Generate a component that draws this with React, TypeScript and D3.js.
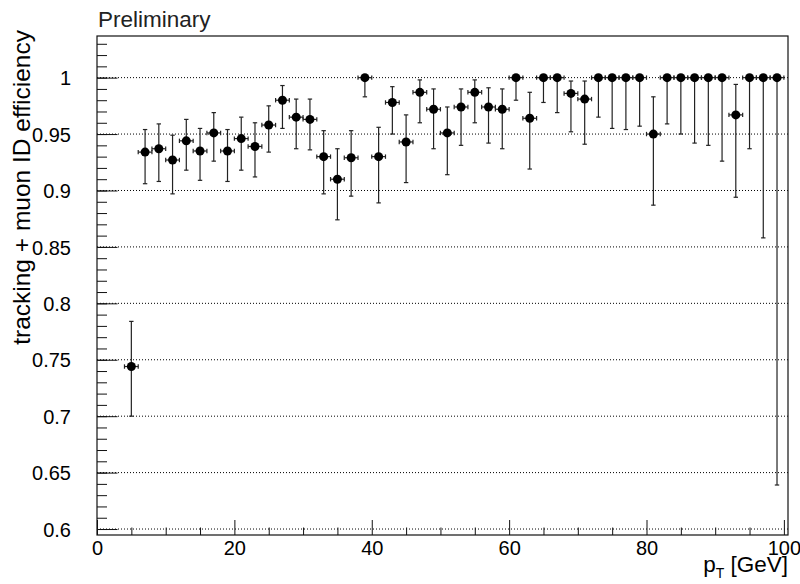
import React, { useEffect, useRef } from 'react';
import * as d3 from 'd3';

// bin centres of pT (GeV), bins of 2 GeV
const ptCenters = [
  5, 7, 9, 11, 13, 15, 17, 19, 21, 23, 25, 27, 29, 31, 33, 35,
  37, 39, 41, 43, 45, 47, 49, 51, 53, 55, 57, 59, 61, 63, 65, 67,
  69, 71, 73, 75, 77, 79, 81, 83, 85, 87, 89, 91, 93, 95, 97, 99,
];
const ptHalfWidth = [1];

const efficiency = [
  0.744, 0.934, 0.937, 0.927, 0.944, 0.935, 0.951, 0.935, 0.946, 0.939, 0.958, 0.980, 0.965, 0.963, 0.930, 0.910,
  0.929, 1.0, 0.930, 0.978, 0.943, 0.987, 0.972, 0.951, 0.974, 0.987, 0.974, 0.972, 1.0, 0.964, 1.0, 1.0,
  0.986, 0.981, 1.0, 1.0, 1.0, 1.0, 0.950, 1.0, 1.0, 1.0, 1.0, 1.0, 0.967, 1.0, 1.0, 1.0,
];
const effLow = [
  0.700, 0.906, 0.908, 0.897, 0.918, 0.909, 0.926, 0.908, 0.918, 0.912, 0.934, 0.955, 0.937, 0.936, 0.897, 0.874,
  0.895, 0.983, 0.889, 0.950, 0.907, 0.960, 0.937, 0.914, 0.940, 0.960, 0.942, 0.937, 0.980, 0.919, 0.978, 0.969,
  0.952, 0.941, 0.965, 0.955, 0.954, 0.957, 0.887, 0.959, 0.950, 0.942, 0.940, 0.926, 0.894, 0.937, 0.858, 0.639,
];
const effHigh = [
  0.784, 0.954, 0.959, 0.949, 0.963, 0.955, 0.969, 0.954, 0.965, 0.960, 0.975, 0.993, 0.981, 0.981, 0.953, 0.937,
  0.953, 1.0, 0.956, 0.992, 0.967, 0.998, 0.990, 0.974, 0.990, 0.998, 0.991, 0.990, 1.0, 0.987, 1.0, 1.0,
  0.997, 0.997, 1.0, 1.0, 1.0, 1.0, 0.983, 1.0, 1.0, 1.0, 1.0, 1.0, 0.994, 1.0, 1.0, 1.0,
];

const yTickLabels = ['0.6', '0.65', '0.7', '0.75', '0.8', '0.85', '0.9', '0.95', '1'];
const xTickLabels = ['0', '20', '40', '60', '80', '100'];

const WIDTH = 800;
const HEIGHT = 584;
const FONT = '"Liberation Sans", Arial, Helvetica, sans-serif';

function EfficiencyPlot() {
  const svgRef = useRef<SVGSVGElement>(null);

  useEffect(() => {
    const svg = d3.select(svgRef.current);
    svg.selectAll('*').remove();

    const frame = { left: 97, right: 788, top: 36, bottom: 535 };
    const x = d3.scaleLinear().domain([0, 100.6]).range([frame.left, frame.right]);
    const y = d3.scaleLinear().domain([0.5947, 1.0369]).range([frame.bottom, frame.top]);

    svg.append('rect')
      .attr('width', WIDTH)
      .attr('height', HEIGHT)
      .attr('fill', '#fff');

    // horizontal dotted grid at major y ticks
    const yMajor = yTickLabels.map(Number);
    svg.append('g')
      .selectAll('line')
      .data(yMajor)
      .enter()
      .append('line')
      .attr('x1', frame.left)
      .attr('x2', frame.right)
      .attr('y1', (d) => y(d))
      .attr('y2', (d) => y(d))
      .attr('stroke', '#000')
      .attr('stroke-width', 1)
      .attr('stroke-dasharray', '1 2');

    // frame
    svg.append('rect')
      .attr('x', frame.left)
      .attr('y', frame.top)
      .attr('width', frame.right - frame.left)
      .attr('height', frame.bottom - frame.top)
      .attr('fill', 'none')
      .attr('stroke', '#111')
      .attr('stroke-width', 1.2);

    // y axis (ROOT style: ticks inside, 0.01 minor ticks)
    const yMinor = d3.range(60, 104).map((v) => v / 100).filter((v) => v <= y.domain()[1]);
    const yAxis = d3.axisRight(y)
      .tickValues(yMinor)
      .tickSize(10)
      .tickFormat(() => '');
    svg.append('g')
      .attr('transform', `translate(${frame.left},0)`)
      .call(yAxis)
      .call((g) => g.select('.domain').remove());
    const yAxisMajor = d3.axisLeft(y)
      .tickValues(yMajor)
      .tickSize(-20.5)
      .tickPadding(26)
      .tickFormat((d, i) => yTickLabels[i]);
    svg.append('g')
      .attr('transform', `translate(${frame.left},0)`)
      .call(yAxisMajor)
      .call((g) => g.select('.domain').remove())
      .call((g) => g.selectAll('text')
        .attr('font-family', FONT)
        .attr('font-size', 20)
        .attr('fill', '#000')
        .attr('dy', '0.36em'));

    // x axis
    const xMajor = xTickLabels.map(Number);
    const xMinor = d3.range(5, 100, 5).filter((v) => v % 20 !== 0);
    svg.append('g')
      .attr('transform', `translate(0,${frame.bottom})`)
      .call(d3.axisTop(x).tickValues(xMinor).tickSize(7.5).tickFormat(() => ''))
      .call((g) => g.select('.domain').remove());
    svg.append('g')
      .attr('transform', `translate(0,${frame.bottom})`)
      .call(d3.axisBottom(x).tickValues(xMajor).tickSize(-15).tickPadding(6)
        .tickFormat((d, i) => xTickLabels[i]))
      .call((g) => g.select('.domain').remove())
      .call((g) => g.selectAll('text')
        .attr('font-family', FONT)
        .attr('font-size', 20)
        .attr('fill', '#000'));
    svg.selectAll('.tick line').attr('stroke', '#111');

    // error bars and markers
    const pts = ptCenters.map((pt, i) => ({
      pt,
      eff: efficiency[i],
      lo: effLow[i],
      hi: effHigh[i],
    }));
    const g = svg.append('g').attr('stroke', '#222').attr('stroke-width', 1.2);
    const cap = 2.2;
    pts.forEach((p) => {
      const cx = x(p.pt);
      const cy = y(p.eff);
      const xl = x(p.pt - ptHalfWidth[0]);
      const xr = x(p.pt + ptHalfWidth[0]);
      g.append('line').attr('x1', xl).attr('x2', xr).attr('y1', cy).attr('y2', cy);
      g.append('line').attr('x1', xl).attr('x2', xl).attr('y1', cy - cap).attr('y2', cy + cap);
      g.append('line').attr('x1', xr).attr('x2', xr).attr('y1', cy - cap).attr('y2', cy + cap);
      if (p.hi > p.eff) {
        g.append('line').attr('x1', cx).attr('x2', cx).attr('y1', cy).attr('y2', y(p.hi));
        g.append('line').attr('x1', cx - cap).attr('x2', cx + cap).attr('y1', y(p.hi)).attr('y2', y(p.hi));
      }
      if (p.lo < p.eff) {
        g.append('line').attr('x1', cx).attr('x2', cx).attr('y1', cy).attr('y2', y(p.lo));
        g.append('line').attr('x1', cx - cap).attr('x2', cx + cap).attr('y1', y(p.lo)).attr('y2', y(p.lo));
      }
    });
    svg.append('g')
      .selectAll('circle')
      .data(pts)
      .enter()
      .append('circle')
      .attr('cx', (d) => x(d.pt))
      .attr('cy', (d) => y(d.eff))
      .attr('r', 4.5)
      .attr('fill', '#000');

    // titles
    svg.append('text')
      .attr('x', 98)
      .attr('y', 26.5)
      .attr('font-family', FONT)
      .attr('font-size', 22.5)
      .attr('fill', '#222')
      .text('Preliminary');

    svg.append('text')
      .attr('transform', 'translate(30,30) rotate(-90)')
      .attr('text-anchor', 'end')
      .attr('font-family', FONT)
      .attr('font-size', 24.5)
      .attr('fill', '#000')
      .text('tracking + muon ID efficiency');

    const xt = svg.append('text')
      .attr('x', 788)
      .attr('y', 572)
      .attr('text-anchor', 'end')
      .attr('font-family', FONT)
      .attr('font-size', 22.5)
      .attr('fill', '#000');
    xt.append('tspan').text('p');
    xt.append('tspan').attr('font-size', 14).attr('dy', 6).text('T');
    xt.append('tspan').attr('dy', -6).text(' [GeV]');
  }, []);

  return (
    <svg
      ref={svgRef}
      width={WIDTH}
      height={HEIGHT}
      style={{ position: 'absolute', left: 0, top: 0, display: 'block' }}
    />
  );
}

export default function App() {
  return <EfficiencyPlot />;
}
